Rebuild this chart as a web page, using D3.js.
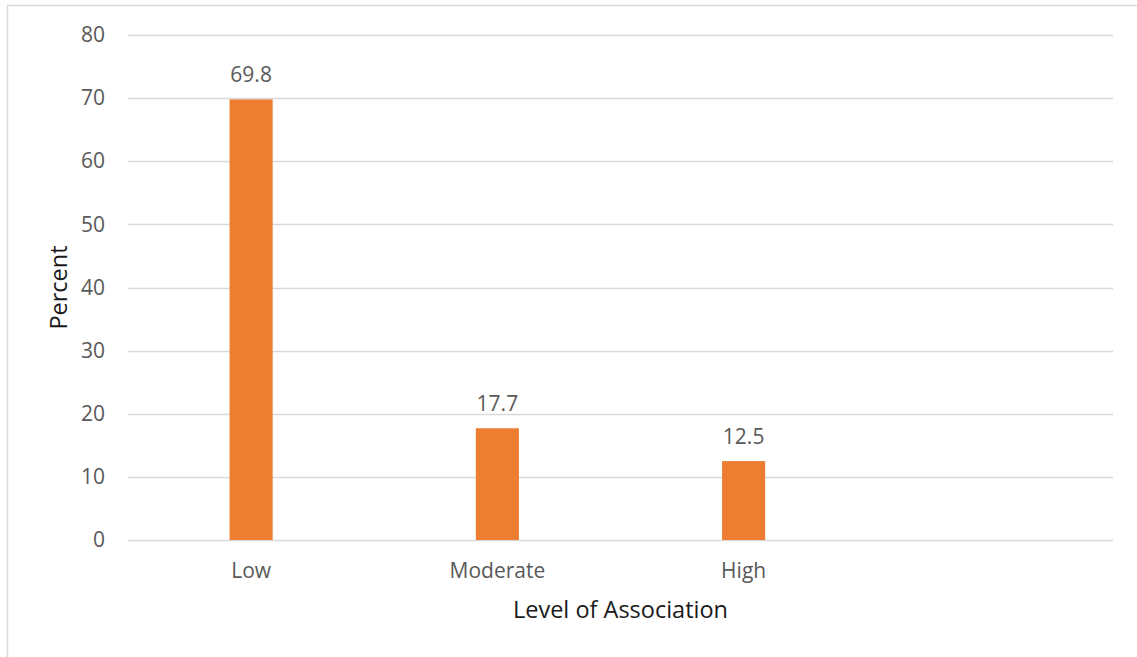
<!DOCTYPE html>
<html>
<head>
<meta charset="utf-8">
<script src="https://cdn.jsdelivr.net/npm/d3@7"></script>
<style>
  body { margin: 0; background: #fff; }
  text { font-family: "Open Sans", "Noto Sans", sans-serif; fill: #595959; }
</style>
</head>
<body>
<script>
var width = 1137,
    height = 657;

var categories = ['Low', 'Moderate', 'High', ''];
var percents = [69.8, 17.7, 12.5, null];
var yTicks = [0, 10, 20, 30, 40, 50, 60, 70, 80];

var margin = { top: 35, right: 24, bottom: 117, left: 128 };
var plotW = width - margin.left - margin.right,
    plotH = height - margin.top - margin.bottom;

var svg = d3.select('body')
    .append('svg')
    .attr('width', width)
    .attr('height', height);

// outer chart border
svg.append('rect')
    .attr('x', 7.5)
    .attr('y', 5.5)
    .attr('width', width)
    .attr('height', height)
    .attr('fill', 'none')
    .attr('stroke', '#d9d9d9')
    .attr('stroke-width', 1.5);

var g = svg.append('g')
    .attr('transform', 'translate(' + margin.left + ',' + margin.top + ')');

var x = d3.scaleBand()
    .domain(d3.range(categories.length))
    .range([0, plotW])
    .padding(0);

var y = d3.scaleLinear()
    .domain([0, 80])
    .range([plotH, 0]);

// gridlines
g.selectAll('line.grid')
    .data(yTicks)
    .enter()
    .append('line')
    .attr('class', 'grid')
    .attr('x1', 0)
    .attr('x2', plotW)
    .attr('y1', function (d) { return Math.round(y(d)) + 0.5; })
    .attr('y2', function (d) { return Math.round(y(d)) + 0.5; })
    .attr('stroke', '#d9d9d9')
    .attr('stroke-width', 1.3);

// y axis labels
var yAxis = d3.axisLeft(y).tickValues(yTicks).tickSize(0).tickPadding(23);
g.append('g')
    .call(yAxis)
    .call(function (s) { s.select('.domain').remove(); })
    .selectAll('text')
    .style('font-size', '21px')
    .attr('fill', '#595959');

// x axis labels
var xAxis = d3.axisBottom(x).tickFormat(function (i) { return categories[i]; }).tickSize(0).tickPadding(23);
g.append('g')
    .attr('transform', 'translate(0,' + plotH + ')')
    .call(xAxis)
    .call(function (s) { s.select('.domain').remove(); })
    .selectAll('text')
    .style('font-size', '21px')
    .attr('fill', '#595959');

var barW = x.bandwidth() * 0.175;
var data = categories.map(function (c, i) { return { i: i, v: percents[i] }; })
    .filter(function (d) { return d.v !== null; });

g.selectAll('rect.bar')
    .data(data)
    .enter()
    .append('rect')
    .attr('class', 'bar')
    .attr('x', function (d) { return x(d.i) + x.bandwidth() / 2 - barW / 2; })
    .attr('y', function (d) { return y(d.v); })
    .attr('width', barW)
    .attr('height', function (d) { return plotH - y(d.v); })
    .attr('fill', '#ed7d31');

g.selectAll('text.val')
    .data(data)
    .enter()
    .append('text')
    .attr('class', 'val')
    .attr('x', function (d) { return x(d.i) + x.bandwidth() / 2; })
    .attr('y', function (d) { return y(d.v) - 17; })
    .attr('text-anchor', 'middle')
    .style('font-size', '21px')
    .text(function (d) { return d.v.toFixed(1); });

// axis titles
svg.append('text')
    .attr('x', margin.left + plotW / 2)
    .attr('y', 618)
    .attr('text-anchor', 'middle')
    .style('font-size', '23.5px')
    .style('fill', '#1a1a1a')
    .text('Level of Association');

svg.append('text')
    .attr('transform', 'translate(67,' + (margin.top + plotH / 2) + ') rotate(-90)')
    .attr('text-anchor', 'middle')
    .style('font-size', '23.5px')
    .style('fill', '#1a1a1a')
    .text('Percent');
</script>
</body>
</html>
